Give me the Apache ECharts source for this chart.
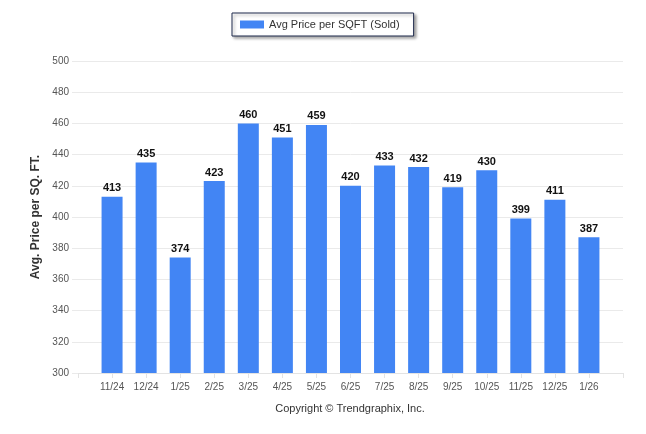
<!DOCTYPE html>
<html><head><meta charset="utf-8">
<script src="https://cdn.jsdelivr.net/npm/echarts@6/dist/echarts.min.js"></script>
<style>html,body{margin:0;padding:0;background:#fff}#c{width:646px;height:434px}</style>
</head><body><div id="c"></div>
<script>
const categories = ['11/24','12/24','1/25','2/25','3/25','4/25','5/25','6/25','7/25','8/25','9/25','10/25','11/25','12/25','1/26'];
const values = [413,435,374,423,460,451,459,420,433,432,419,430,399,411,387];
const seriesName = 'Avg Price per SQFT (Sold)';
const yTicks = {min:300, max:500, interval:20};

const cats = [''].concat(categories, ['']);
const vals = [null].concat(values, [null]);
const FONT = '"Liberation Sans", Arial, sans-serif';
const chart = echarts.init(document.getElementById('c'));
chart.setOption({
  animation:false,
  textStyle:{fontFamily:FONT},
  legend:{
    data:[seriesName], top:13, left:232,
    itemWidth:24, itemHeight:8, itemGap:5,
    padding:[6,14,6,8],
    borderColor:'#1f2a4d', borderWidth:1, backgroundColor:'#fff',
    shadowColor:'rgba(0,0,0,0.35)', shadowBlur:3, shadowOffsetX:2, shadowOffsetY:2,
    textStyle:{fontSize:11, color:'#333', fontFamily:FONT},
    icon:'rect'
  },
  grid:{left:78, right:23, top:61, bottom:61, containLabel:false},
  xAxis:{
    type:'category', data:cats, boundaryGap:false,
    axisLine:{lineStyle:{color:'#e3e3e3'}},
    axisTick:{length:5, lineStyle:{color:'#e3e3e3'}},
    axisLabel:{fontSize:10, color:'#555', margin:9, interval:0},
    splitLine:{show:false}
  },
  yAxis:{
    type:'value', min:yTicks.min, max:yTicks.max, interval:yTicks.interval,
    name:'Avg. Price per SQ. FT.', nameLocation:'middle', nameGap:36, nameRotate:90,
    nameTextStyle:{fontSize:12, fontWeight:'bold', color:'#333'},
    axisLine:{show:false},
    axisTick:{show:true, length:6, lineStyle:{color:'#eaeaea'}},
    axisLabel:{fontSize:10, color:'#555', margin:9},
    splitLine:{lineStyle:{color:'#eaeaea'}}
  },
  graphic:[{type:'text', x:350, y:403,
    style:{text:'Copyright \u00a9 Trendgraphix, Inc.', font:'11px '+FONT, fill:'#333', textAlign:'center'}}],
  series:[{
    name:seriesName, type:'bar', data:vals, barWidth:21,
    itemStyle:{color:'#4285f4'},
    label:{show:true, position:'top', distance:3, fontSize:11, fontWeight:'bold', color:'#111'}
  }]
});
</script></body></html>
